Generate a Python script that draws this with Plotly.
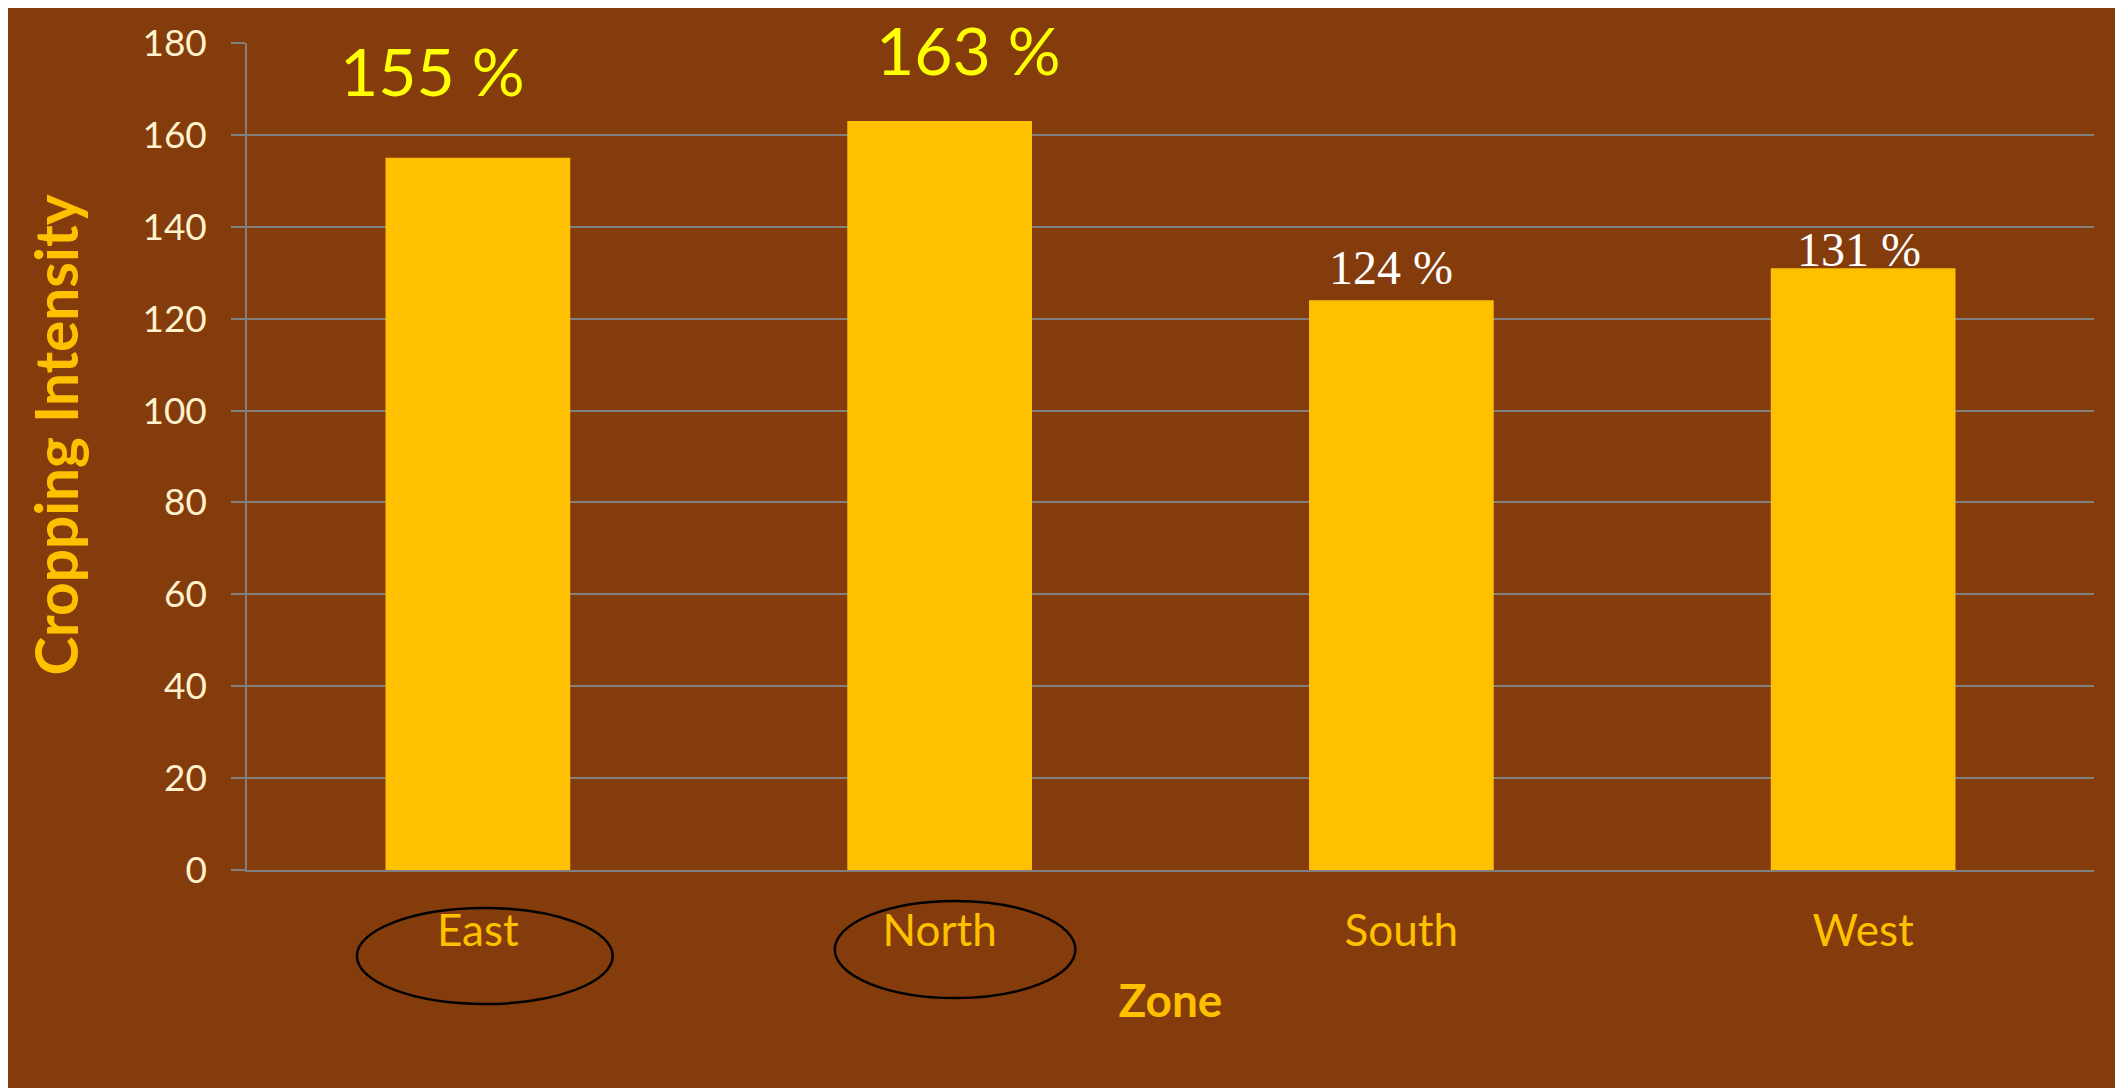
import plotly.graph_objects as go

# ---- data ----
zones = ["East", "North", "South", "West"]
intensity = [155, 163, 124, 131]
y_ticks = [0, 20, 40, 60, 80, 100, 120, 140, 160, 180]

# ---- styles ----
W, H = 2115, 1080
ML, MR, MT, MB = 239, 29, 35, 218
PW, PH = W - ML - MR, H - MT - MB
BROWN = "#843C0C"
GOLD = "#FFC000"
GRID = "#808080"
CREAM = "#FFF2CC"

label_style = {
    "East":  dict(font=dict(family="Lato", size=66, color="#FFFF00"), xshift=-45, yshift=87),
    "North": dict(font=dict(family="Lato", size=66, color="#FFFF00"), xshift=29, yshift=72),
    "South": dict(font=dict(family="Liberation Serif", size=48, color="#FFFFFF"), xshift=-10, yshift=33),
    "West":  dict(font=dict(family="Liberation Serif", size=48, color="#FFFFFF"), xshift=-4, yshift=19),
}

fig = go.Figure(
    go.Bar(
        x=zones,
        y=intensity,
        marker=dict(color=GOLD, line=dict(width=0)),
        width=0.4,
        hoverinfo="x+y",
    )
)

annotations = []
for z, v in zip(zones, intensity):
    st = label_style[z]
    annotations.append(dict(
        x=z, y=v, xref="x", yref="y", text=f"{v} %", showarrow=False,
        xanchor="center", yanchor="middle",
        xshift=st["xshift"], yshift=st["yshift"], font=st["font"],
    ))

# y-axis title as rotated annotation
annotations.append(dict(
    x=-(ML - 47) / PW, y=1 - (427.5 - MT) / PH, xref="paper", yref="paper",
    text="<b>Cropping Intensity</b>", textangle=-90, showarrow=False,
    xanchor="center", yanchor="middle",
    font=dict(family="Lato", size=58.5, color=GOLD),
))

shapes = []
# ellipses around East and North category labels (figure pixel rows)
ellipse_def = {"East": (-0.262, 0.292, 900, 996), "North": (-0.227, 0.294, 893, 990)}
for z, (dx0, dx1, py0, py1) in ellipse_def.items():
    i = zones.index(z)
    shapes.append(dict(type="circle", xref="x", yref="paper",
                       x0=i + dx0, x1=i + dx1,
                       y0=(PH + MT - py1) / PH, y1=(PH + MT - py0) / PH,
                       line=dict(color="black", width=2.5), fillcolor="rgba(0,0,0,0)",
                       layer="above"))

fig.update_layout(
    width=W, height=H,
    margin=dict(l=ML, r=MR, t=MT, b=MB, pad=0),
    paper_bgcolor=BROWN,
    plot_bgcolor=BROWN,
    bargap=0.6,
    showlegend=False,
    annotations=annotations,
    shapes=shapes,
    xaxis=dict(
        type="category",
        range=[-0.5, 3.5],
        showline=True, linecolor=GRID, linewidth=1.5,
        showgrid=False, ticks="",
        tickfont=dict(family="Lato", size=44, color=GOLD),
        ticklabelstandoff=21,
        title=dict(text="<b>Zone</b>", font=dict(family="Lato", size=46, color=GOLD), standoff=31),
    ),
    yaxis=dict(
        range=[0, 180],
        tickvals=y_ticks,
        showline=True, linecolor=GRID, linewidth=1.5,
        showgrid=True, gridcolor=GRID, gridwidth=1.5,
        zeroline=False,
        ticks="outside", ticklen=14, tickcolor=GRID, tickwidth=1.5,
        tickfont=dict(family="Lato", size=37, color=CREAM),
        ticklabelstandoff=17,
    ),
)

fig.write_html("out.html")
